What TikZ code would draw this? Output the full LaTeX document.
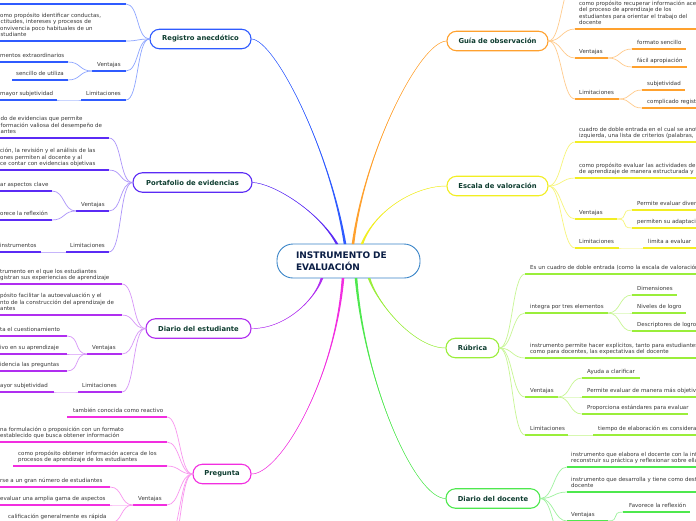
\documentclass[tikz,border=0pt]{standalone}
\usepackage{fontspec}
\setmainfont{DejaVu Sans}
\usetikzlibrary{calc}
\definecolor{cBlue}{HTML}{2F5BFF}
\definecolor{cPurple}{HTML}{5B2BF5}
\definecolor{cViolet}{HTML}{B02EF0}
\definecolor{cMagenta}{HTML}{F22EE0}
\definecolor{cOrange}{HTML}{FFA12E}
\definecolor{cYellow}{HTML}{F2EE22}
\definecolor{cLime}{HTML}{9AEE3A}
\definecolor{cGreen}{HTML}{4EE84E}
\definecolor{cCenter}{HTML}{3A85C8}
\definecolor{tNode}{HTML}{0E3D30}
\definecolor{tCenter}{HTML}{0B1E45}
\definecolor{tLeaf}{HTML}{383838}
\tikzset{
  rootbox/.style={draw=cCenter, line width=0.9pt, fill=white, rounded corners=16pt,
    minimum width=143pt, minimum height=34pt, inner sep=0pt, text width=105pt, align=left,
    text=tCenter, font=\fontsize{9}{12}\selectfont\bfseries},
  branch/.style={draw=#1, line width=1.1pt, fill=white, rounded corners=9.5pt,
    minimum height=19.5pt, inner sep=0pt, text=tNode, font=\fontsize{6.8}{8}\selectfont\bfseries},
  leaf/.style={inner sep=0pt, align=left, anchor=south west, text=tLeaf, text depth=1.5pt,
    font=\fontsize{5.5}{6.5}\selectfont},
  uline/.style={line width=1.8pt},
  conn/.style={line width=0.7pt},
}
\newcommand\mmleaf[7]{%
  \coordinate (#1l) at (#3,#5);
  \coordinate (#1r) at (#4,#5);
  \draw[uline,#2] (#1l) -- (#1r);
  \node[leaf] (#1) at (#6,#5-2.5) {#7};
}
\newcommand\lk[3]{\draw[conn,#1] (#2) .. controls +(-13,0) and +(13,0) .. (#3);}
\newcommand\rk[3]{\draw[conn,#1] (#2) .. controls +(13,0) and +(-13,0) .. (#3);}
\newcommand\mainlink[5]{%
  \fill[#1] (#2) .. controls (#3) and (#4) .. ($(#5)+(-1.3,0)$) -- ($(#5)+(1.3,0)$) .. controls (#4) and (#3) .. (#2) -- cycle;
  \draw[#1, line width=0.45pt] (#2) .. controls (#3) and (#4) .. (#5);
}
\begin{document}
\begin{tikzpicture}[x=1pt,y=-1pt]
\useasboundingbox (0,0) rectangle (696,520);
\clip (0,0) rectangle (696,520);
\fill[white] (0,0) rectangle (696,520);

% ---------- root and branch nodes
\node[rootbox] (root) at (348.5,261) {INSTRUMENTO DE\\EVALUACIÓN};
\node[branch=cBlue, minimum width=101pt] (reg) at (200.5,39) {Registro anecdótico};
\node[branch=cPurple, minimum width=119pt] (port) at (192.5,182.5) {Portafolio de evidencias};
\node[branch=cViolet, minimum width=105pt] (dest) at (198.5,328.5) {Diario del estudiante};
\node[branch=cMagenta, minimum width=58pt] (preg) at (222,474) {Pregunta};
\node[branch=cOrange, minimum width=101pt] (guia) at (497.5,41) {Guía de observación};
\node[branch=cYellow, minimum width=101pt] (esc) at (497.5,186) {Escala de valoración};
\node[branch=cLime, minimum width=53pt] (rub) at (472.5,348) {Rúbrica};
\node[branch=cGreen, minimum width=94pt] (doc) at (493,498.5) {Diario del docente};

% ---------- main links
\coordinate (rB) at (345,244);
\coordinate (rP) at (337,244);
\coordinate (rO) at (353,244);
\coordinate (rY) at (362,244);
\coordinate (rV) at (322,278);
\coordinate (rM) at (343,278);
\coordinate (rG) at (356,278);
\coordinate (rL) at (369,278);
\mainlink{cBlue}{reg.east}{275,40}{330,150}{rB}
\mainlink{cPurple}{port.east}{272,183}{318,210}{rP}
\mainlink{cOrange}{guia.west}{420,42}{365,150}{rO}
\mainlink{cYellow}{esc.west}{415,186}{375,210}{rY}
\mainlink{cViolet}{dest.east}{285,329}{315,300}{rV}
\mainlink{cMagenta}{preg.east}{280,474}{335,380}{rM}
\mainlink{cGreen}{doc.west}{415,498}{365,385}{rG}
\mainlink{cLime}{rub.west}{415,348}{378,305}{rL}

% ---------- Registro anecdótico
\mmleaf{ra}{cBlue}{-5}{126}{4}{0}{}
\mmleaf{rb}{cBlue}{-5}{126}{41}{-3}{como propósito identificar conductas,\\actitudes, intereses y procesos de\\convivencia poco habituales de un\\estudiante}
\mmleaf{rv}{cBlue}{92}{126}{71}{97}{Ventajas}
\mmleaf{rva}{cBlue}{-5}{68}{62}{0}{mentos extraordinarios}
\mmleaf{rvb}{cBlue}{12}{68}{80}{16}{sencillo de utiliza}
\mmleaf{rl}{cBlue}{81}{126}{100}{86}{Limitaciones}
\mmleaf{rla}{cBlue}{-5}{57}{100}{0}{mayor subjetividad}
\lk{cBlue!55}{reg.west}{rar}
\lk{cBlue!55}{reg.west}{rbr}
\lk{cBlue!55}{reg.west}{rvr}
\lk{cBlue!55}{reg.west}{rlr}
\lk{cBlue!55}{rvl}{rvar}
\lk{cBlue!55}{rvl}{rvbr}
\lk{cBlue!40}{rll}{rlar}

% ---------- Portafolio de evidencias
\mmleaf{pa}{cPurple}{-5}{109}{138}{0.5}{do de evidencias que permite\\formación valiosa del desempeño de\\antes}
\mmleaf{pb}{cPurple}{-5}{109}{170}{0}{ción, la revisión y el análisis de las\\ones permiten al docente y al\\ce contar con evidencias objetivas}
\mmleaf{pv}{cPurple}{76}{109}{211}{81}{Ventajas}
\mmleaf{pva}{cPurple}{-5}{52}{191}{0}{ar aspectos clave}
\mmleaf{pvb}{cPurple}{-5}{52}{220}{0}{orece la reflexión}
\mmleaf{pl}{cPurple}{66}{109}{252}{70}{Limitaciones}
\mmleaf{pla}{cPurple}{-5}{41}{252}{0}{instrumentos}
\lk{cPurple!50}{port.west}{par}
\lk{cPurple!50}{port.west}{pbr}
\lk{cPurple!50}{port.west}{pvr}
\lk{cPurple!50}{port.west}{plr}
\lk{cPurple!50}{pvl}{pvar}
\lk{cPurple!50}{pvl}{pvbr}
\lk{cPurple!35}{pll}{plar}

% ---------- Diario del estudiante
\mmleaf{ea}{cViolet}{-5}{122}{284}{0}{trumento en el que los estudiantes\\gistran sus experiencias de aprendizaje}
\mmleaf{eb}{cViolet}{-5}{122}{315}{0}{pósito facilitar la autoevaluación y el\\nto de la construcción del aprendizaje de\\antes}
\mmleaf{ev}{cViolet}{87}{122}{354}{92}{Ventajas}
\mmleaf{eva}{cViolet}{-5}{67}{336}{0}{ta el cuestionamiento}
\mmleaf{evb}{cViolet}{-5}{67}{354}{0}{ivo en su aprendizaje}
\mmleaf{evc}{cViolet}{-5}{67}{371}{0}{idencia las preguntas}
\mmleaf{el}{cViolet}{78}{122}{392}{82}{Limitaciones}
\mmleaf{ela}{cViolet}{-5}{54}{392}{0}{ayor subjetividad}
\lk{cViolet!50}{dest.west}{ear}
\lk{cViolet!50}{dest.west}{ebr}
\lk{cViolet!50}{dest.west}{evr}
\lk{cViolet!50}{dest.west}{elr}
\lk{cViolet!50}{evl}{evar}
\lk{cViolet!50}{evl}{evbr}
\lk{cViolet!50}{evl}{evcr}
\lk{cViolet!35}{ell}{elar}

% ---------- Pregunta
\mmleaf{qa}{cMagenta}{67}{167}{417}{73}{también conocida como reactivo}
\mmleaf{qb}{cMagenta}{-5}{167}{442}{0}{na formulación o proposición con un formato\\establecido que busca obtener información}
\mmleaf{qc}{cMagenta}{13}{167}{466}{18}{como propósito obtener información acerca de los\\procesos de aprendizaje de los estudiantes}
\mmleaf{qv}{cMagenta}{133}{167}{505}{138}{Ventajas}
\mmleaf{qva}{cMagenta}{-5}{110}{487}{0}{rse a un gran número de estudiantes}
\mmleaf{qvb}{cMagenta}{-5}{110}{505}{0}{evaluar una amplia gama de aspectos}
\mmleaf{qvc}{cMagenta}{3}{110}{523}{8}{calificación generalmente es rápida}
\coordinate (qx1) at (167,540);
\coordinate (qx2) at (167,565);
\lk{cMagenta!50}{preg.west}{qar}
\lk{cMagenta!50}{preg.west}{qbr}
\lk{cMagenta!50}{preg.west}{qcr}
\lk{cMagenta!50}{preg.west}{qvr}
\lk{cMagenta!50}{preg.west}{qx1}
\lk{cMagenta!50}{preg.west}{qx2}
\lk{cMagenta!50}{qvl}{qvar}
\lk{cMagenta!35}{qvl}{qvbr}
\lk{cMagenta!50}{qvl}{qvcr}

% ---------- Guía de observación
\coordinate (gx) at (575,-20);
\mmleaf{ga}{cOrange}{575}{705}{29}{579}{como propósito recuperar información acerca\\del proceso de aprendizaje de los\\estudiantes para orientar el trabajo del\\docente}
\mmleaf{gv}{cOrange}{575}{608}{58}{579}{Ventajas}
\mmleaf{gva}{cOrange}{632}{686}{49}{637}{formato sencillo}
\mmleaf{gvb}{cOrange}{632}{687}{67}{637}{fácil apropiación}
\mmleaf{gl}{cOrange}{575}{619}{99}{579}{Limitaciones}
\mmleaf{gla}{cOrange}{642}{685}{90}{647}{subjetividad}
\mmleaf{glb}{cOrange}{642}{705}{108}{647}{complicado registro}
\rk{cOrange!55}{guia.east}{gx}
\rk{cOrange!55}{guia.east}{gal}
\rk{cOrange!55}{guia.east}{gvl}
\rk{cOrange!55}{guia.east}{gll}
\rk{cOrange!55}{gvr}{gval}
\rk{cOrange!55}{gvr}{gvbl}
\rk{cOrange!55}{glr}{glal}
\rk{cOrange!55}{glr}{glbl}

% ---------- Escala de valoración
\mmleaf{sa}{cYellow}{575}{705}{142}{579}{cuadro de doble entrada en el cual se anota\\izquierda, una lista de criterios (palabras,}
\mmleaf{sb}{cYellow}{575}{705}{178}{579}{como propósito evaluar las actividades de\\de aprendizaje de manera estructurada y}
\mmleaf{sv}{cYellow}{575}{617}{219}{579}{Ventajas}
\mmleaf{sva}{cYellow}{632}{705}{210}{637}{Permite evaluar diversos}
\mmleaf{svb}{cYellow}{632}{705}{228}{637}{permiten su adaptación}
\mmleaf{sl}{cYellow}{575}{619}{248}{579}{Limitaciones}
\mmleaf{sla}{cYellow}{643}{705}{248}{648}{limita a evaluar}
\rk{cYellow!60}{esc.east}{sal}
\rk{cYellow!60}{esc.east}{sbl}
\rk{cYellow!60}{esc.east}{svl}
\rk{cYellow!60}{esc.east}{sll}
\rk{cYellow!60}{svr}{sval}
\rk{cYellow!60}{svr}{svbl}
\rk{cYellow!40}{slr}{slal}

% ---------- Rúbrica
\mmleaf{ua}{cLime}{525}{705}{274}{530}{Es un cuadro de doble entrada (como la escala de valoración)}
\mmleaf{ub}{cLime}{525}{608}{313}{530}{integra por tres elementos}
\mmleaf{uba}{cLime}{632}{677}{295}{637}{Dimensiones}
\mmleaf{ubb}{cLime}{632}{686}{313}{637}{Niveles de logro}
\mmleaf{ubc}{cLime}{632}{705}{331}{637}{Descriptores de logro}
\mmleaf{uc}{cLime}{525}{705}{358}{530}{instrumento permite hacer explícitos, tanto para estudiantes\\como para docentes, las expectativas del docente}
\mmleaf{uv}{cLime}{525}{558}{397}{530}{Ventajas}
\mmleaf{uva}{cLime}{582}{640}{378}{587}{Ayuda a clarificar}
\mmleaf{uvb}{cLime}{582}{705}{397}{587}{Permite evaluar de manera más objetiva}
\mmleaf{uvc}{cLime}{582}{688}{414}{587}{Proporciona estándares para evaluar}
\mmleaf{um}{cLime}{525}{568}{435}{530}{Limitaciones}
\mmleaf{uma}{cLime}{593}{705}{435}{598}{tiempo de elaboración es considerable}
\rk{cLime!55}{rub.east}{ual}
\rk{cLime!55}{rub.east}{ubl}
\rk{cLime!55}{rub.east}{ucl}
\rk{cLime!55}{rub.east}{uvl}
\rk{cLime!55}{rub.east}{uml}
\rk{cLime!55}{ubr}{ubal}
\rk{cLime!40}{ubr}{ubbl}
\rk{cLime!55}{ubr}{ubcl}
\rk{cLime!55}{uvr}{uval}
\rk{cLime!40}{uvr}{uvbl}
\rk{cLime!55}{uvr}{uvcl}
\rk{cLime!40}{umr}{umal}

% ---------- Diario del docente
\mmleaf{da}{cGreen}{567}{705}{467}{571}{instrumento que elabora el docente con la información\\reconstruir su práctica y reflexionar sobre ella}
\mmleaf{db}{cGreen}{567}{705}{492}{571}{instrumento que desarrolla y tiene como destinatario\\docente}
\mmleaf{dv}{cGreen}{567}{608}{521}{571}{Ventajas}
\mmleaf{dva}{cGreen}{623}{690}{512}{629}{Favorece la reflexión}
\coordinate (dvb) at (623,535);
\coordinate (dx) at (567,548);
\rk{cGreen!55}{doc.east}{dal}
\rk{cGreen!55}{doc.east}{dbl}
\rk{cGreen!55}{doc.east}{dvl}
\rk{cGreen!55}{doc.east}{dx}
\rk{cGreen!55}{dvr}{dval}
\rk{cGreen!55}{dvr}{dvb}
\end{tikzpicture}
\end{document}
